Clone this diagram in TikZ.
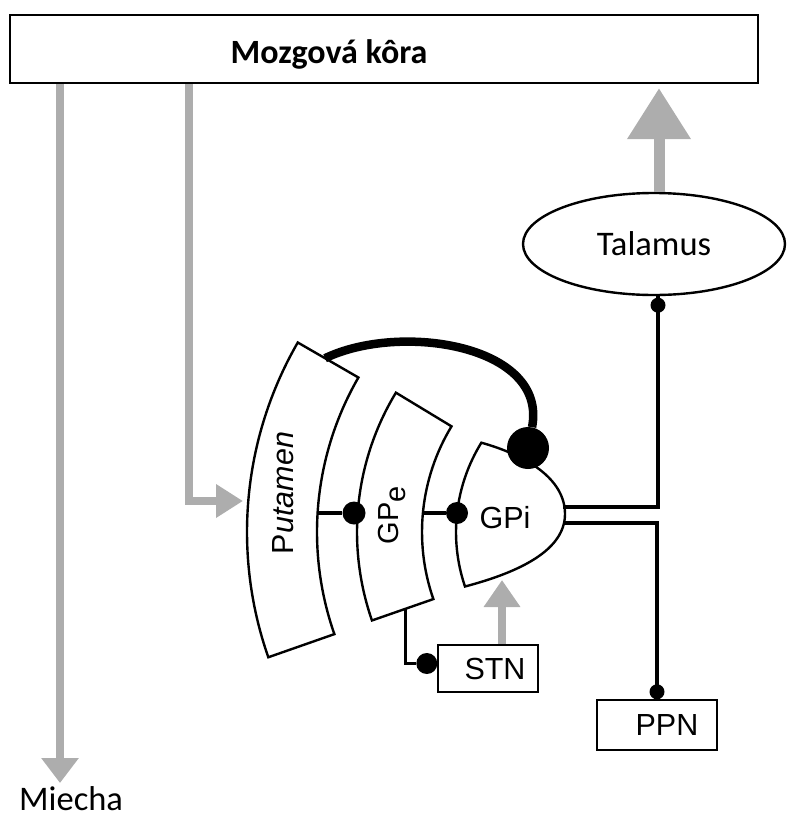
\documentclass[tikz,border=0pt]{standalone}
\usepackage{fontspec}
\setmainfont{Liberation Sans}
\newfontfamily\calfont{Carlito}
\usetikzlibrary{arrows.meta,shapes.geometric,calc}
\definecolor{gry}{gray}{0.68}
\begin{document}
\begin{tikzpicture}[x=1pt,y=1pt,
  garrow/.style={draw=gry, line width=8pt},
  conn/.style={draw=black, line width=3.5pt},
  outline/.style={draw=black, line width=2.4pt, fill=white},
  dotb/.style={circle, fill=black, inner sep=0pt, minimum size=#1},
  boxn/.style={draw, line width=2.4pt, inner sep=0pt, fill=white},
  arialtxt/.style={font=\fontsize{30.5}{36}\selectfont},
  caltxt/.style={font=\calfont\fontsize{34.5}{40}\selectfont}
]
\useasboundingbox (0,0) rectangle (787,-819);

% cortex
\node[boxn, minimum width=748pt, minimum height=68pt] (cortex) at (384,-49) {};
\node[font=\calfont\bfseries\fontsize{34}{40}\selectfont, anchor=base, inner sep=0pt] (ctext) at (329,-63) {Mozgová kôra};

% thalamus
\node[boxn, ellipse, minimum width=262pt, minimum height=102pt, caltxt] (tal) at (654,-244) {Talamus};

% gray arrows
\coordinate (mtip) at (60,-783);
\coordinate (putin) at (243,-501);
\draw[garrow, -{Triangle[width=36pt,length=25pt]}] (mtip |- cortex.south) -- (mtip);
\draw[garrow, -{Triangle[width=32pt,length=27pt]}] ([xshift=-195pt]cortex.south) |- (putin);
\draw[garrow, line width=11pt, -{Triangle[width=61pt,length=51pt]}] ([xshift=5pt]tal.north) -- ([xshift=5pt,yshift=-4pt]tal.north |- cortex.south);

\node[caltxt, anchor=base west, inner sep=0pt] (miecha) at (19,-810) {Miecha};

% rings
\coordinate (C) at (626,-532);
\coordinate (ptl) at ($(C)+(150:379pt)$);
\coordinate (ptr) at ($(C)+(150:309pt)$);
\draw[outline] (ptl) arc[start angle=150, end angle=199.3, radius=379pt]
  -- ($(C)+(199.3:309pt)$) arc[start angle=199.3, end angle=150, radius=309pt] -- cycle;

\coordinate (gpeBL) at ($(C)+(199.2:269pt)$);
\coordinate (gpeBR) at ($(C)+(199.2:204pt)$);
\draw[outline] ($(C)+(148.8:269pt)$) arc[start angle=148.8, end angle=199.2, radius=269pt]
  -- (gpeBR) arc[start angle=199.2, end angle=148.8, radius=204pt] -- cycle;

\coordinate (gpiT) at ($(C)+(148.3:170pt)$);
\coordinate (gpiB) at ($(C)+(198.7:170pt)$);
\coordinate (gpiTip) at (565,-514);
\draw[outline] (gpiT) .. controls (525,-455) and (565,-478) .. (gpiTip)
  .. controls (565,-550) and (520,-572) .. (gpiB)
  arc[start angle=198.7, end angle=148.3, radius=170pt] -- cycle;

% texts in rings
\node[rotate=90, anchor=base, inner sep=0pt, arialtxt] (putT) at (293,-493) {P\textit{utamen}};
\node[rotate=90, anchor=base, inner sep=0pt, font=\fontsize{29}{34}\selectfont] (gpeT) at (398,-515) {GP\raisebox{-7pt}{e}};
\node[arialtxt] (gpitext) at (505,-518) {GPi};

% boxes
\node[boxn, minimum width=100pt, minimum height=47pt, arialtxt] (stn) at (488,-668.5) {\hspace{14pt}STN};
\node[boxn, minimum width=120pt, minimum height=50pt, arialtxt] (ppn) at (657,-725) {\hspace{20pt}PPN};

% STN -> GPi gray arrow
\coordinate (stip) at (502,-580);
\draw[garrow, -{Triangle[width=35pt,length=27pt]}] (stip |- stn.north) -- (stip);

% black connectors
\coordinate (gpiU) at (563,-507);
\coordinate (gpiL) at (563,-523);
\draw[conn] ([xshift=4pt]tal.south) -- ([xshift=4pt]tal.south |- gpiU) -- (gpiU);
\node[dotb=15pt] (d1) at ([xshift=4pt,yshift=-9pt]tal.south) {};
\draw[conn] (gpiL) -| (ppn.north);
\node[dotb=15pt] (d6) at ([yshift=7pt]ppn.north) {};

\coordinate (pr) at (318,-513);
\node[dotb=23pt] (d2) at (354,-513) {};
\draw[conn] (pr) -- (d2);

\coordinate (ger) at (423,-513);
\node[dotb=22pt] (d3) at (457,-513) {};
\draw[conn] (ger) -- (d3);

\coordinate (gpeS) at ($(gpeBL)!0.55!(gpeBR)$);
\node[dotb=21pt] (d4) at ([xshift=-10pt,yshift=5pt]stn.west) {};
\draw[conn] (gpeS) |- (d4);

\coordinate (curvS) at ($(ptl)!0.45!(ptr)$);
\node[dotb=42pt] (d5) at (528,-448) {};
\draw[line width=8.5pt] (curvS) .. controls (400,-322) and (548,-345) .. (d5);
\end{tikzpicture}
\end{document}
